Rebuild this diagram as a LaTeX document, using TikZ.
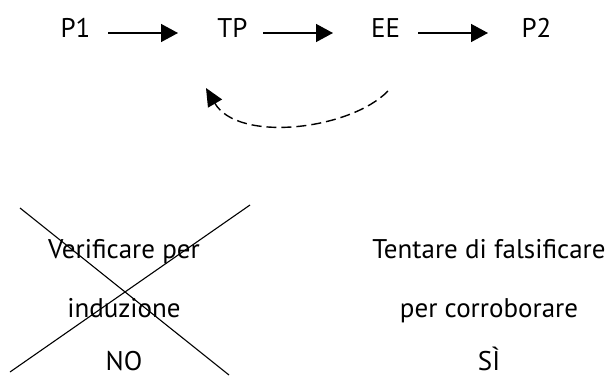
\documentclass[tikz,border=0pt]{standalone}
\usepackage{fontspec}
\setmainfont{PT Sans}
\usetikzlibrary{arrows.meta}
\tikzset{
  lbl/.style={anchor=base, inner sep=0pt, font=\fontsize{27}{32}\selectfont},
  flow/.style={line width=1.4pt, -{Triangle[length=17pt,width=18pt]}},
  back/.style={line width=1.4pt, dash pattern=on 10pt off 5pt, -{Triangle[length=18pt,width=16pt]}},
  cross/.style={line width=1.1pt}
}
\begin{document}
\begin{tikzpicture}[x=1pt,y=-1pt]
\useasboundingbox (0,0) rectangle (609,377);
% top chain
\node[lbl] (p1) at (75.5,38) {P1};
\node[lbl] (tp) at (232.5,38) {TP};
\node[lbl] (ee) at (385.5,38) {EE};
\node[lbl] (p2) at (536.5,38) {P2};
\coordinate (a1s) at (108,33); \coordinate (a1e) at (178,33);
\coordinate (a2s) at (263,33); \coordinate (a2e) at (333,33);
\coordinate (a3s) at (418,33); \coordinate (a3e) at (488,33);
\draw[flow] (a1s) -- (a1e);
\draw[flow] (a2s) -- (a2e);
\draw[flow] (a3s) -- (a3e);
% feedback arc
\coordinate (bs) at (388,91);
\coordinate (be) at (206,88);
\draw[back] (bs) .. controls (350,130) and (238,143) .. (be);
% left column
\node[lbl] (l1) at (124,258) {Verificare per};
\node[lbl] (l2) at (124,317) {induzione};
\node[lbl] (l3) at (124,370.5) {NO};
% right column
\node[lbl] (r1) at (489,258) {Tentare di falsificare};
\node[lbl] (r2) at (489,317) {per corroborare};
\node[lbl] (r3) at (489,370.5) {SÌ};
% crossing out
\coordinate (c1) at (20,208); \coordinate (c2) at (229,375);
\coordinate (c3) at (250,205); \coordinate (c4) at (10,372);
\draw[cross] (c1) -- (c2);
\draw[cross] (c3) -- (c4);
\end{tikzpicture}
\end{document}
